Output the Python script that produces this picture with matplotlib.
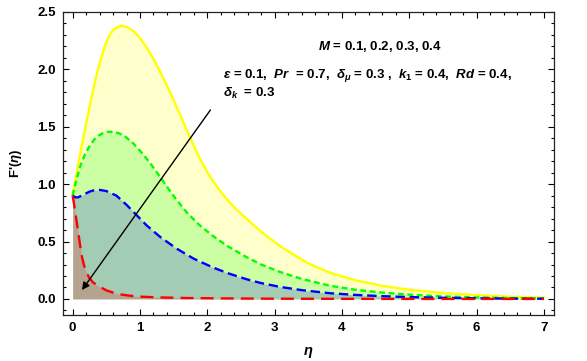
import numpy as np
import matplotlib.pyplot as plt
from matplotlib.ticker import MultipleLocator

plt.rcParams['font.family'] = ['Liberation Sans', 'DejaVu Sans']
plt.rcParams['font.weight'] = 'bold'
plt.rcParams['mathtext.fontset'] = 'custom'
plt.rcParams['mathtext.it'] = 'Liberation Sans:italic:bold'
plt.rcParams['mathtext.rm'] = 'Liberation Sans:bold'
plt.rcParams['mathtext.bf'] = 'Liberation Sans:bold'

# M = 0.1 (yellow)
eta_m1 = [0, 0.05, 0.12, 0.19, 0.27, 0.37, 0.47, 0.53, 0.59, 0.65, 0.72, 0.8, 0.89,
          0.99, 1.09, 1.19, 1.29, 1.44, 1.6, 1.74, 1.86, 1.99, 2.08, 2.18, 2.28, 2.43,
          2.58, 2.8, 3.08, 3.3, 3.5, 3.82, 4.2, 4.6, 5.0, 5.5, 6.0, 6.5, 7.0]
f_m1 = [0.90, 1.07, 1.29, 1.50, 1.73, 1.99, 2.19, 2.28, 2.335, 2.365, 2.38, 2.37, 2.34,
        2.28, 2.20, 2.10, 1.99, 1.81, 1.60, 1.41, 1.255, 1.115, 1.03, 0.95, 0.875, 0.78,
        0.70, 0.585, 0.46, 0.38, 0.31, 0.228, 0.163, 0.114, 0.08, 0.052, 0.033, 0.02,
        0.012]

# M = 0.2 (green)
eta_m2 = [0, 0.03, 0.07, 0.12, 0.19, 0.27, 0.35, 0.45, 0.54, 0.62, 0.7, 0.79, 0.9,
          1.04, 1.16, 1.29, 1.41, 1.54, 1.7, 1.88, 2.08, 2.3, 2.58, 2.8, 3.08, 3.4,
          3.82, 4.2, 4.6, 5.0, 5.5, 6.0, 6.5, 7.0]
f_m2 = [0.90, 0.98, 1.07, 1.17, 1.27, 1.35, 1.41, 1.445, 1.457, 1.455, 1.44, 1.41,
        1.355, 1.265, 1.175, 1.07, 0.97, 0.865, 0.75, 0.645, 0.55, 0.46, 0.365, 0.30,
        0.235, 0.175, 0.115, 0.08, 0.055, 0.037, 0.022, 0.013, 0.008, 0.004]

# M = 0.3 (blue)
eta_m3 = [0, 0.04, 0.08, 0.15, 0.25, 0.32, 0.4, 0.5, 0.65, 0.8, 0.95, 1.1, 1.3, 1.54,
          1.8, 2.08, 2.3, 2.58, 2.8, 3.08, 3.4, 3.82, 4.2, 4.6, 5.0, 5.5, 6.0, 6.5, 7.0]
f_m3 = [0.90, 0.885, 0.885, 0.905, 0.935, 0.947, 0.95, 0.94, 0.90, 0.82, 0.73, 0.64,
        0.54, 0.44, 0.35, 0.275, 0.225, 0.172, 0.138, 0.105, 0.077, 0.05, 0.035, 0.024,
        0.016, 0.01, 0.006, 0.003, 0.002]

# M = 0.4 (red)
eta_m4 = [0, 0.02, 0.04, 0.06, 0.08, 0.10, 0.12, 0.14, 0.17, 0.20, 0.24, 0.30, 0.36,
          0.42, 0.5, 0.6, 0.7, 0.85, 1.0, 1.3, 1.7, 2.2, 3.0, 4.0, 5.0, 6.0, 7.0]
f_m4 = [0.90, 0.83, 0.75, 0.67, 0.59, 0.51, 0.43, 0.36, 0.29, 0.24, 0.19, 0.145, 0.12,
        0.10, 0.075, 0.055, 0.04, 0.028, 0.02, 0.013, 0.008, 0.005, 0.002, 0.001, 0, 0, 0]

curves = [
    (eta_m1, f_m1, '#ffff00', None),
    (eta_m2, f_m2, '#00ff00', (2.5, 1.5)),
    (eta_m3, f_m3, '#0000ff', (4, 2)),
    (eta_m4, f_m4, '#ff0000', (5.5, 3)),
]

fig = plt.figure(figsize=(5.87, 3.61), dpi=100)
ax = fig.add_axes([0.1073, 0.1274, 0.8365, 0.8394])

for x, y, c, d in curves:
    ax.fill_between(x, 0, y, color=c, alpha=0.2, lw=0)
for x, y, c, d in curves:
    if d is None:
        ax.plot(x, y, color=c, lw=1.7)
    else:
        ax.plot(x, y, color=c, lw=1.7, dashes=d)

ax.set_xlim(-0.144, 7.15)
ax.set_ylim(-0.14, 2.5)
ax.xaxis.set_major_locator(MultipleLocator(1))
ax.xaxis.set_minor_locator(MultipleLocator(0.2))
ax.yaxis.set_major_locator(MultipleLocator(0.5))
ax.yaxis.set_minor_locator(MultipleLocator(0.1))
ax.tick_params(which='both', direction='in', top=True, right=True, labelsize=9.5, width=0.8)
ax.tick_params(which='major', length=4.5, pad=5)
ax.tick_params(which='minor', length=2.5)
ax.yaxis.set_major_formatter(plt.FormatStrFormatter('%.1f'))
for lbl in ax.get_xticklabels() + ax.get_yticklabels():
    lbl.set_fontweight('bold')
for s in ax.spines.values():
    s.set_linewidth(0.9)
    s.set_color('#222222')

ax.set_xlabel(r'$\eta$', fontsize=10.5, labelpad=8)
ax.set_ylabel(r"F'($\eta$)", fontsize=9.5, fontweight='bold', labelpad=10)

ax.annotate('', xy=(0.114, 0.058), xytext=(2.07, 1.666),
            arrowprops=dict(arrowstyle='-|>', color='black', lw=1, mutation_scale=11))

ax.text(4.56, 2.195, r'$M$ = 0.1, 0.2, 0.3, 0.4', fontsize=9.5, ha='center', va='center')
ax.text(2.23, 1.95, r'$\epsilon$ = 0.1,  $Pr$  = 0.7,  $\delta_\mu$ = 0.3 ,  $k_1$ = 0.4,  $Rd$ = 0.4,',
        fontsize=9.5, ha='left', va='center')
ax.text(2.23, 1.79, r'$\delta_k$  = 0.3', fontsize=9.5, ha='left', va='center')

fig.savefig('out.png', dpi=100)
